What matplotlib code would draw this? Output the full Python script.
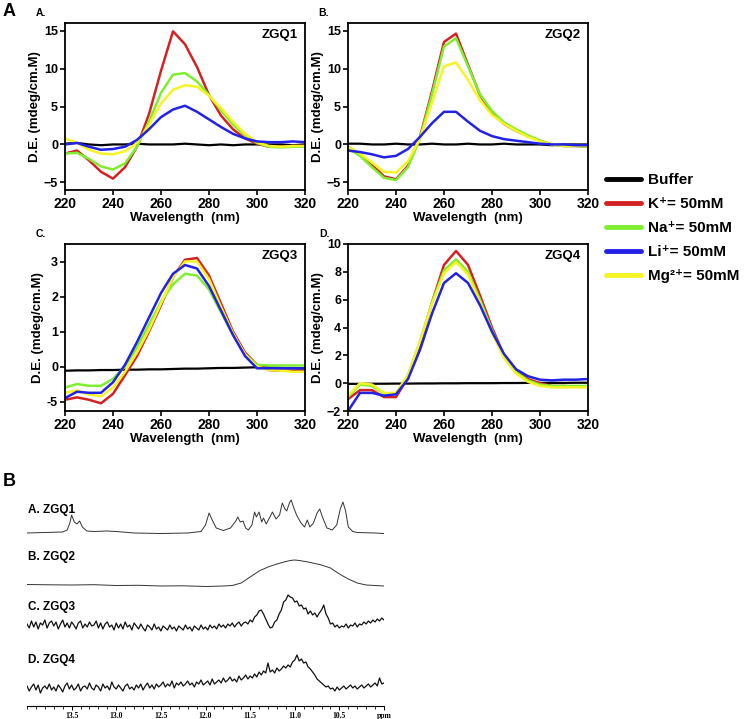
import numpy as np
import matplotlib
matplotlib.use("Agg")
import matplotlib.pyplot as plt
from matplotlib.ticker import MultipleLocator

plt.rcParams['font.family'] = ['Liberation Sans', 'DejaVu Sans']
plt.rcParams['font.weight'] = 'bold'

# CD spectra, wavelength grid (nm)
wl = [220, 225, 230, 235, 240, 245, 250, 255, 260, 265, 270,
      275, 280, 285, 290, 295, 300, 305, 310, 315, 320]

zgq1_buf = [0.1, 0.2, 0.0, -0.1, 0.0, 0.0, 0.1, 0.0, 0.0, 0.0, 0.1, 0.0, -0.1, 0.0, -0.1, 0.0, 0.0, 0.0, 0.0, -0.1, 0.0]
zgq1_k = [-1.2, -0.8, -2.1, -3.6, -4.5, -3.0, -0.3, 4.0, 9.7, 14.9, 13.2, 10.2, 6.5, 3.8, 2.0, 0.8, 0.1, -0.3, -0.3, -0.2, -0.2]
zgq1_na = [-1.2, -1.1, -1.9, -2.9, -3.3, -2.5, -0.3, 3.0, 6.8, 9.2, 9.4, 8.3, 6.5, 4.5, 2.6, 1.2, 0.2, -0.3, -0.4, -0.3, -0.3]
zgq1_li = [0.0, 0.2, -0.3, -0.7, -0.6, -0.3, 0.6, 2.0, 3.6, 4.6, 5.1, 4.3, 3.3, 2.3, 1.4, 0.8, 0.4, 0.3, 0.3, 0.4, 0.3]
zgq1_mg = [0.8, 0.2, -0.7, -1.2, -1.3, -0.9, 0.2, 2.6, 5.4, 7.2, 7.8, 7.6, 6.4, 4.8, 3.0, 1.4, 0.3, -0.2, -0.3, -0.2, -0.2]

zgq2_buf = [0.1, 0.1, 0.0, 0.0, 0.1, 0.0, 0.0, 0.1, 0.0, 0.0, 0.1, 0.0, 0.0, 0.1, 0.0, 0.0, 0.0, -0.1, 0.0, 0.0, 0.0]
zgq2_k = [-0.3, -1.3, -2.7, -4.2, -4.6, -2.8, 1.0, 7.0, 13.5, 14.6, 10.5, 6.5, 4.2, 2.7, 1.8, 1.1, 0.5, 0.0, -0.2, -0.2, -0.3]
zgq2_na = [-0.5, -1.5, -3.0, -4.4, -4.7, -3.0, 0.8, 6.6, 12.9, 14.0, 10.3, 6.6, 4.4, 2.9, 2.0, 1.2, 0.5, 0.0, -0.2, -0.2, -0.3]
zgq2_li = [-0.8, -1.0, -1.3, -1.7, -1.5, -0.6, 1.0, 2.8, 4.3, 4.3, 3.0, 1.8, 1.1, 0.7, 0.5, 0.3, 0.1, 0.0, 0.0, -0.1, -0.1]
zgq2_mg = [-0.3, -1.2, -2.4, -3.6, -3.7, -2.2, 0.8, 5.5, 10.3, 10.8, 8.5, 5.8, 3.9, 2.7, 1.8, 1.0, 0.4, 0.0, -0.2, -0.2, -0.2]

zgq3_buf = [-0.12, -0.11, -0.11, -0.1, -0.1, -0.09, -0.09, -0.08, -0.08, -0.07, -0.06, -0.06, -0.05, -0.04, -0.04, -0.03, -0.02, -0.03, -0.04, -0.05, -0.06]
zgq3_k = [-0.95, -0.88, -0.95, -1.05, -0.78, -0.25, 0.3, 1.0, 1.75, 2.55, 3.05, 3.1, 2.6, 1.8, 1.0, 0.4, 0.05, -0.1, -0.12, -0.12, -0.12]
zgq3_na = [-0.6, -0.5, -0.55, -0.55, -0.35, 0.0, 0.55, 1.2, 1.85, 2.35, 2.65, 2.6, 2.2, 1.55, 0.9, 0.35, 0.05, 0.03, 0.03, 0.03, 0.03]
zgq3_li = [-0.9, -0.72, -0.75, -0.75, -0.45, 0.05, 0.7, 1.4, 2.1, 2.65, 2.9, 2.8, 2.3, 1.6, 0.9, 0.3, -0.05, -0.05, -0.05, -0.05, -0.05]
zgq3_mg = [-0.75, -0.68, -0.8, -0.85, -0.6, -0.15, 0.4, 1.05, 1.8, 2.55, 3.0, 3.0, 2.5, 1.7, 0.95, 0.35, 0.0, -0.1, -0.12, -0.15, -0.15]

zgq4_buf = [-0.05, -0.05, -0.04, -0.04, -0.03, -0.03, -0.02, -0.02, -0.01, -0.01, 0.0, 0.0, 0.0, 0.01, 0.01, 0.02, 0.02, 0.02, 0.02, 0.03, 0.03]
zgq4_k = [-1.15, -0.5, -0.5, -1.0, -1.0, 0.4, 2.8, 5.8, 8.5, 9.5, 8.5, 6.3, 4.0, 2.0, 0.9, 0.3, 0.0, -0.2, -0.2, -0.25, -0.25]
zgq4_na = [-1.0, -0.1, -0.2, -0.75, -0.75, 0.6, 3.0, 5.8, 8.1, 8.9, 8.0, 6.0, 3.8, 1.9, 0.8, 0.2, -0.1, -0.2, -0.2, -0.2, -0.2]
zgq4_li = [-2.0, -0.7, -0.7, -0.9, -0.8, 0.3, 2.4, 5.0, 7.2, 7.9, 7.2, 5.6, 3.7, 2.1, 1.0, 0.5, 0.25, 0.2, 0.25, 0.25, 0.3]
zgq4_mg = [-0.9, 0.0, -0.1, -0.7, -0.7, 0.6, 3.0, 5.7, 7.9, 8.7, 7.8, 5.8, 3.6, 1.8, 0.7, 0.1, -0.2, -0.3, -0.3, -0.3, -0.3]

series_labels = ['Buffer', 'K\u207a= 50mM', 'Na\u207a= 50mM', 'Li\u207a= 50mM', 'Mg\u00b2\u207a= 50mM']
series_colors = ['black', '#d42222', '#80ee30', '#2222e6', '#f6f424']

# 1H NMR imino region
nmr1_ppm = [14.0, 13.8, 13.6, 13.55, 13.52, 13.50, 13.47, 13.44, 13.41, 13.38, 13.33, 13.25, 13.1, 13.0,
            12.8, 12.5, 12.2, 12.05, 12.0, 11.96, 11.93, 11.88, 11.8, 11.72, 11.66, 11.64, 11.61, 11.58,
            11.55, 11.52, 11.48, 11.45, 11.43, 11.40, 11.37, 11.35, 11.32, 11.29, 11.25, 11.21, 11.17,
            11.14, 11.11, 11.09, 11.06, 11.04, 11.01, 10.98, 10.93, 10.89, 10.86, 10.83, 10.79, 10.75,
            10.72, 10.69, 10.64, 10.58, 10.53, 10.49, 10.46, 10.43, 10.40, 10.35, 10.3, 10.1, 10.0]
nmr1_int = [0, 0.5, 1, 3, 10, 18, 11, 9, 12, 6, 2, 1.5, 2, 1.5,
            0, -0.5, 0, 1.5, 8, 20, 14, 5, 2.5, 5, 12, 16, 11, 12,
            5, 3, 8, 21, 16, 21, 11, 15, 9, 14, 21, 14, 18,
            30, 24, 22, 30, 33, 25, 18, 10, 6, 13, 6, 10, 20,
            24, 16, 5, 3, 8, 24, 31, 22, 6, 1.5, 0.5, 0, -0.5]

nmr2_ppm = [14.0, 13.75, 13.5, 13.25, 13.0, 12.75, 12.5, 12.25, 12.0, 11.8, 11.7, 11.6, 11.5, 11.45, 11.4,
            11.3, 11.2, 11.12, 11.05, 11.0, 10.95, 10.85, 10.8, 10.7, 10.6, 10.55, 10.5, 10.4, 10.3,
            10.2, 10.1, 10.0]
nmr2_int = [0.5, 0.2, 0, 0.3, -0.5, -0.3, -1, -0.8, -1.5, -1, -0.5, 2, 8, 11, 14,
            18, 21, 23, 24.5, 25, 24.5, 23, 22, 20, 17, 14, 11, 6, 2,
            0, -0.5, -1]

nmr_grid = np.linspace(14.0, 10.0, 161)
nmr3_int = [1, -3, 4, -2, 3, -4, 2, 0, 5, -3,
            2, 4, -1, 3, -4, 1, 5, -2, 2, -3,
            3, 0, -4, 2, 4, -3, 1, -2, 3, -1,
            0, 4, -3, 2, -4, 1, 3, -2, 0, -5,
            2, -3, 1, -4, 3, -2, 0, -5, 2, -1,
            -4, 1, -3, -6, 0, -2, -5, 1, -4, -2,
            -6, -1, -3, -5, 0, -4, -2, -6, -1, -3,
            -5, 0, -4, -2, -6, -1, -3, -5, 0, -4,
            -2, -5, 0, -3, -1, -4, 1, -2, 0, -3,
            1, -1, 2, -2, 1, 3, -1, 2, 3, 1,
            5, 3, 8, 10, 14, 15, 11, 6, 1, -3,
            -2, 3, 5, 11, 15, 23, 25, 30, 28, 27,
            23, 24, 19, 20, 16, 17, 11, 14, 10, 12,
            8, 12, 15, 20, 11, 7, 1, 2, -2, 0,
            -3, -1, -2, 1, -3, 0, -1, 2, -2, 1,
            0, 3, 1, 4, 2, 5, 3, 6, 4, 7, 5]
nmr4_int = [2, -3, 1, 4, -2, 3, -5, 0, 2, -1,
            4, -2, 1, -3, 3, 0, -4, 2, 5, -1,
            3, -2, 0, 4, -3, 1, 2, -1, 5, 0,
            -2, 3, 1, -3, 4, 0, 2, -2, 6, 1,
            -1, 3, 0, -3, 2, 4, -1, 1, -2, 3,
            0, 4, -2, 2, 5, 0, 3, -1, 4, 1,
            3, 6, 1, 4, 2, 7, 0, 5, 3, 6,
            2, 4, 7, 3, 5, 1, 6, 4, 8, 3,
            5, 7, 3, 9, 4, 6, 8, 5, 10, 6,
            8, 11, 7, 9, 6, 12, 8, 10, 13, 9,
            12, 10, 14, 11, 16, 13, 17, 15, 25, 16,
            18, 15, 20, 17, 19, 22, 20, 23, 21, 26,
            28, 33, 27, 29, 25, 26, 21, 19, 16, 13,
            9, 7, 5, 3, 1, 2, -1, 0, -3, 1,
            -2, 0, 2, -1, 1, 3, 0, 2, -1, 1,
            3, 0, 2, 4, 1, 3, 5, 2, 10, 4, 5]

W, H = 744, 719
fig = plt.figure(figsize=(W / 100, H / 100), dpi=100)


def px_axes(left, top, right, bottom):
    return fig.add_axes([left / W, 1 - bottom / H, (right - left) / W, (bottom - top) / H])


def cd_panel(ax, data, name, letter, ylim, yticks, yticklabels=None):
    order = [0, 1, 2, 4, 3]  # buffer, K, Na, Mg, Li on top
    lines = {}
    for i in order:
        lw = 1.6 if i == 0 else 1.8
        lines[i], = ax.plot(wl, data[i], color=series_colors[i], lw=lw, solid_capstyle='round')
    ax.set_xlim(220, 320)
    ax.set_ylim(*ylim)
    ax.set_xticks([220, 240, 260, 280, 300, 320])
    ax.set_yticks(yticks)
    if yticklabels is not None:
        ax.set_yticklabels(yticklabels)
    for s in ax.spines.values():
        s.set_linewidth(1.3)
    ax.tick_params(direction='out', length=3.5, width=1.2, pad=1.5)
    ax.tick_params(axis='x', labelsize=10)
    ax.tick_params(axis='y', labelsize=9)
    ax.set_xlabel('Wavelength  (nm)', fontsize=9.5, fontweight='bold', labelpad=1)
    ax.set_ylabel('D.E. (mdeg/cm.M)', fontsize=9.5, fontweight='bold', labelpad=2)
    ax.text(0.97, 0.93, name, transform=ax.transAxes, ha='right', va='center',
            fontsize=9.5, fontweight='bold')
    ax.text(-0.1, 1.06, letter, transform=ax.transAxes, ha='center', va='center',
            fontsize=7.5, fontweight='bold')
    return lines


axA = px_axes(65, 23, 305, 190)
axB = px_axes(348, 23, 588, 190)
axC = px_axes(65, 244, 305, 411)
axD = px_axes(348, 244, 588, 411)

lines = cd_panel(axA, [zgq1_buf, zgq1_k, zgq1_na, zgq1_li, zgq1_mg], 'ZGQ1', 'A.',
                 (-6, 16), [-5, 0, 5, 10, 15])
cd_panel(axB, [zgq2_buf, zgq2_k, zgq2_na, zgq2_li, zgq2_mg], 'ZGQ2', 'B.',
         (-6, 16), [-5, 0, 5, 10, 15])
cd_panel(axC, [zgq3_buf, zgq3_k, zgq3_na, zgq3_li, zgq3_mg], 'ZGQ3', 'C.',
         (-1.27, 3.5), [-1, 0, 1, 2, 3], ['-5', '0', '1', '2', '3'])
cd_panel(axD, [zgq4_buf, zgq4_k, zgq4_na, zgq4_li, zgq4_mg], 'ZGQ4', 'D.',
         (-2, 10), [-2, 0, 2, 4, 6, 8, 10])

fig.legend([lines[i] for i in range(5)], series_labels, loc='upper left',
           bbox_to_anchor=(606 / W, 1 - 173 / H), frameon=False,
           handlelength=2.3, handletextpad=0.45, labelspacing=0.66,
           borderpad=0, borderaxespad=0, prop={'weight': 'bold', 'size': 11})
for lg in fig.legends:
    for ln in lg.get_lines():
        ln.set_linewidth(3.5)

fig.text(3 / W, 1 - 12 / H, 'A', fontsize=13, fontweight='bold', va='center', ha='left')
fig.text(3 / W, 1 - 482 / H, 'B', fontsize=13, fontweight='bold', va='center', ha='left')

# NMR panel, y in pixel-like units above the ppm axis
axN = px_axes(27, 490, 384, 706)
nmr_base = [173, 121, 81, 18]
axN.plot(nmr1_ppm, np.array(nmr1_int) + nmr_base[0], color='#333333', lw=0.7)
axN.plot(nmr2_ppm, np.array(nmr2_int) + nmr_base[1], color='#333333', lw=0.7)
axN.plot(nmr_grid, np.array(nmr3_int) + nmr_base[2], color='#111111', lw=0.9)
axN.plot(nmr_grid, np.array(nmr4_int) + nmr_base[3], color='#111111', lw=0.9)
axN.set_xlim(14.0, 10.0)
axN.set_ylim(0, 216)
for s in ['left', 'top', 'right']:
    axN.spines[s].set_visible(False)
axN.spines['bottom'].set_linewidth(0.8)
axN.set_yticks([])
axN.xaxis.set_minor_locator(MultipleLocator(0.1))
ticks = [13.5, 13.0, 12.5, 12.0, 11.5, 11.0, 10.5, 10.0]
axN.set_xticks(ticks)
axN.set_xticklabels(['13.5', '13.0', '12.5', '12.0', '11.5', '11.0', '10.5', 'ppm'],
                    family='Liberation Serif', fontsize=5.5, fontweight='bold')
axN.tick_params(axis='x', which='major', length=3, width=0.7, pad=1.5)
axN.tick_params(axis='x', which='minor', length=2, width=0.6)

nmr_names = ['A. ZGQ1', 'B. ZGQ2', 'C. ZGQ3', 'D. ZGQ4']
nmr_label_y = [510, 557, 607, 660]
for nm, yy in zip(nmr_names, nmr_label_y):
    fig.text(28 / W, 1 - yy / H, nm, fontsize=8.5, fontweight='bold', va='center', ha='left')

fig.savefig('out.png', dpi=100)
